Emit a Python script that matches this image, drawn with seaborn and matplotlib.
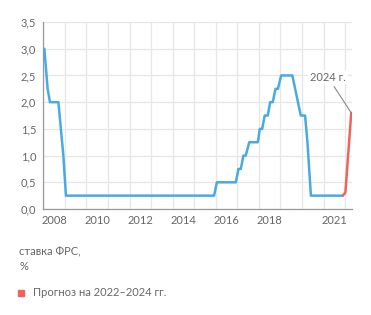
import matplotlib
matplotlib.use("Agg")
import matplotlib.pyplot as plt
import matplotlib.ticker as mticker
import seaborn as sns
import pandas as pd

# Fed funds rate (upper bound), fractional years
hist_dates = [2008.05, 2008.20, 2008.31, 2008.70, 2008.93, 2009.05,
              2015.92, 2016.05, 2016.93, 2017.05, 2017.16, 2017.28, 2017.39,
              2017.55, 2017.95, 2018.04, 2018.15, 2018.27, 2018.41, 2018.52,
              2018.64, 2018.77, 2018.88, 2019.03, 2019.55, 2019.94, 2020.14,
              2020.25, 2020.41, 2021.89]
hist_rates = [3.0, 2.25, 2.0, 2.0, 1.0, 0.25,
              0.25, 0.5, 0.5, 0.75, 0.75, 1.0, 1.0,
              1.25, 1.25, 1.5, 1.5, 1.75, 1.75, 2.0,
              2.0, 2.25, 2.25, 2.5, 2.5, 1.75, 1.75,
              1.25, 0.25, 0.25]
fcst_dates = [2021.89, 2022.01, 2022.28]
fcst_rates = [0.25, 0.31, 1.8]

year_labels = ["2008", "2010", "2012", "2014", "2016", "2018", "2021"]
y_ticks = [0.0, 0.5, 1.0, 1.5, 2.0, 2.5, 3.0, 3.5]
y_label = "ставка ФРС,\n%"
legend_label = "Прогноз на 2022–2024 гг."
annot_label = "2024 г."

BLUE = "#4BA9E2"
RED = "#F0625A"
TXT = "#666666"

sns.set_style("white")
plt.rcParams["font.family"] = ["Lato", "DejaVu Sans"]

fig = plt.figure(figsize=(3.71, 3.15), dpi=100)
ax = fig.add_axes([0.1167, 0.3365, 0.8329, 0.5935])

hist = pd.DataFrame({"date": hist_dates, "rate": hist_rates})
fcst = pd.DataFrame({"date": fcst_dates, "rate": fcst_rates})
sns.lineplot(data=hist, x="date", y="rate", ax=ax, color=BLUE, lw=1.8,
             sort=False, estimator=None, zorder=3)
sns.lineplot(data=fcst, x="date", y="rate", ax=ax, color=RED, lw=1.8,
             sort=False, estimator=None, zorder=4)

ax.set_xlim(2008.0, 2022.33)
ax.set_ylim(0, 3.5)
ax.set_yticks(y_ticks)
ax.yaxis.set_major_formatter(mticker.FuncFormatter(lambda v, p: f"{v:.1f}".replace(".", ",")))

ax.set_xticks(range(2008, 2023))
ax.set_xticklabels([])
ax.set_xticks([int(y) + 0.5 for y in year_labels], minor=True)
ax.set_xticklabels(year_labels, minor=True)
ax.tick_params(axis="x", which="major", length=3, color="#999999", width=0.8)
ax.tick_params(axis="x", which="minor", length=0, pad=4, labelsize=8, labelcolor=TXT)
ax.tick_params(axis="y", length=3, color="#999999", width=0.8, pad=2,
               labelsize=8, labelcolor=TXT)

ax.grid(True, which="major", color="#E6E6E6", lw=0.9)
for s in ["top", "right"]:
    ax.spines[s].set_visible(False)
for s in ["left", "bottom"]:
    ax.spines[s].set_color("#999999")
    ax.spines[s].set_linewidth(0.9)
ax.set_xlabel("")
ax.set_ylabel("")

ax.annotate(annot_label, xy=(fcst_dates[-1], fcst_rates[-1]), xytext=(2021.2, 2.47),
            ha="center", va="center", fontsize=8, color=TXT,
            bbox=dict(boxstyle="square,pad=0.15", fc="white", ec="none"),
            arrowprops=dict(arrowstyle="-", color="#888888", lw=0.8,
                            shrinkA=2, shrinkB=0), zorder=5)

fig.text(19 / 371, 1 - 259 / 315, y_label, fontsize=8, color=TXT, va="center", ha="left",
         linespacing=1.35)
fig.patches.append(plt.Rectangle((18 / 371, 1 - 296 / 315), 6 / 371, 6 / 315,
                                 transform=fig.transFigure, color=RED))
fig.text(33 / 371, 1 - 293 / 315, legend_label, fontsize=8, color=TXT, va="center", ha="left")

fig.savefig("out.png", dpi=100)
